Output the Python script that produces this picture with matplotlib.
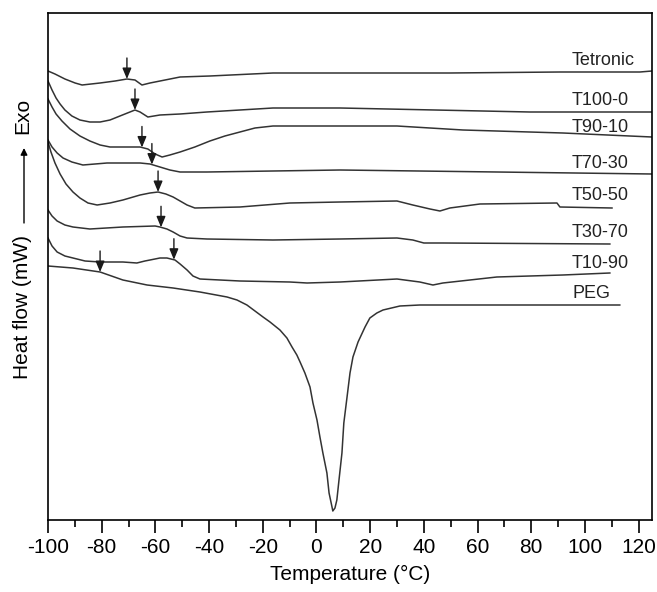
import numpy as np
from matplotlib import pyplot as plt

# 字体
plt.rcParams['font.family'] = ['Liberation Sans', 'DejaVu Sans']
plt.rcParams['axes.unicode_minus'] = False  # 刻度用普通连字符

# 数据 (温度 °C, 热流 任意单位)
names = ['Tetronic', 'T100-0', 'T90-10', 'T70-30', 'T50-50', 'T30-70', 'T10-90', 'PEG']

t_tetronic = [-100, -97.4, -93.7, -89.9, -87.3, -80.6, -75.0, -70.6, -67.6, -65.0, -62.0, -56.4, -50.8, -39.7, -16.2, 8.8, 49.7, 90.7, 120.5, 125]
h_tetronic = [44.9, 44.6, 44.1, 43.7, 43.5, 43.7, 43.9, 44.1, 44.0, 43.5, 43.7, 44.0, 44.3, 44.4, 44.7, 44.7, 44.7, 44.8, 44.8, 44.9]

t_t100 = [-100, -98.5, -97.0, -95.5, -93.7, -91.1, -88.1, -84.4, -80.6, -76.9, -73.2, -67.6, -65.7, -62.8, -58.3, -50.8, -40.8, -16.2, 8.8, 79.5, 125]
h_t100 = [43.9, 43.0, 42.2, 41.6, 41.0, 40.4, 40.0, 39.8, 39.8, 40.0, 40.4, 41.0, 40.8, 40.3, 40.5, 40.6, 40.8, 41.2, 41.2, 40.8, 40.8]

t_t90 = [-100, -98.5, -97.0, -94.8, -91.8, -88.1, -84.4, -80.6, -76.9, -65.7, -62.8, -60.1, -57.5, -54.6, -50.8, -45.3,
         -39.7, -34.1, -28.5, -22.9, -16.2, 8.8, 30.0, 54.6, 91.8, 125]
h_t90 = [42.1, 41.3, 40.6, 39.9, 39.1, 38.4, 37.9, 37.5, 37.3, 37.3, 37.1, 36.6, 36.3, 36.5, 36.8, 37.3,
         37.9, 38.4, 38.8, 39.2, 39.4, 39.4, 39.4, 39.0, 38.7, 38.3]

t_t70 = [-100, -98.5, -96.6, -94.4, -91.1, -87.0, -82.5, -78.0, -65.7, -62.0, -58.3, -54.6, -50.8, -40.8, -16.2, 8.8, 67.2, 125]
h_t70 = [38.0, 37.3, 36.7, 36.2, 35.8, 35.5, 35.6, 35.7, 35.7, 35.6, 35.3, 35.0, 34.8, 34.8, 34.9, 35.0, 34.8, 34.6]

t_t50 = [-100, -98.9, -97.4, -95.5, -93.3, -90.7, -88.1, -85.1, -81.7, -76.9, -72.1, -65.7, -62.0, -59.0, -56.1, -53.4,
         -50.8, -48.2, -45.3, -28.5, -9.9, 8.8, 30.0, 35.9, 42.3, 46.0, 49.7, 60.9, 89.6, 90.7, 110.1]
h_t50 = [37.8, 36.8, 35.7, 34.6, 33.6, 32.8, 32.2, 31.7, 31.5, 31.7, 32.0, 32.5, 32.7, 32.8, 32.6, 32.3,
         31.9, 31.5, 31.2, 31.3, 31.7, 31.8, 31.9, 31.5, 31.1, 30.9, 31.2, 31.6, 31.7, 31.3, 31.2]

t_t30 = [-100, -98.5, -96.6, -93.7, -90.7, -84.4, -72.1, -60.1, -58.3, -55.7, -53.4, -50.8, -48.2, -40.8, -16.2, 8.8,
         30.0, 35.9, 40.0, 47.1, 109.3]
h_t30 = [31.0, 30.4, 29.9, 29.5, 29.3, 29.1, 29.3, 29.4, 29.3, 29.1, 28.8, 28.4, 28.2, 28.1, 28.0, 28.1,
         28.2, 28.0, 27.7, 27.7, 27.6]

t_t10 = [-100, -98.5, -96.6, -93.7, -90.7, -86.2, -80.6, -72.1, -66.9, -63.9, -62.0, -58.3, -55.7, -52.7, -50.8, -48.2,
         -46.0, -43.4, -28.5, -9.9, -3.5, 8.8, 30.0, 38.5, 43.4, 47.1, 67.2, 91.8, 109.3]
h_t10 = [28.2, 27.4, 26.8, 26.4, 26.2, 25.9, 25.8, 25.8, 25.7, 25.9, 26.0, 26.2, 26.2, 26.0, 25.6, 25.0,
         24.4, 24.1, 23.9, 23.8, 23.7, 23.8, 24.1, 23.8, 23.5, 23.7, 24.3, 24.5, 24.7]

t_peg = [-100, -90.7, -80.6, -72.1, -63.1, -53.4, -43.4, -33.3, -29.6, -25.9, -19.9, -17.3, -13.6, -11.0, -9.1, -7.3,
         -6.1, -4.3, -2.4, -1.3, 0.2, 1.3, 2.4, 3.9, 4.7, 5.8, 6.1, 6.9, 7.6, 8.4, 9.5, 10.2, 11.4, 12.5, 13.6, 15.5,
         18.1, 19.9, 22.5, 24.8, 31.1, 38.5, 113.0]
h_peg = [25.4, 25.2, 24.8, 24.0, 23.5, 23.2, 22.8, 22.3, 22.0, 21.5, 20.3, 19.8, 19.0, 18.2, 17.3, 16.5,
         15.8, 14.7, 13.3, 11.7, 10.0, 8.3, 6.7, 4.7, 2.7, 1.3, 0.9, 1.2, 2.0, 4.0, 6.7, 9.7, 12.3, 14.7, 16.3, 17.8,
         19.3, 20.2, 20.7, 21.0, 21.4, 21.5, 21.5]

# 箭头所在温度
arrow_t = [-70.6, -67.6, -65.0, -61.3, -59.0, -57.9, -53.1, -80.6]

curves_t = [t_tetronic, t_t100, t_t90, t_t70, t_t50, t_t30, t_t10, t_peg]
curves_h = [h_tetronic, h_t100, h_t90, h_t70, h_t50, h_t30, h_t10, h_peg]

# 曲线名称的位置
label_x = 95.2
label_y = [45.5, 41.5, 38.8, 35.2, 32.0, 28.3, 25.2, 22.2]

fig = plt.figure(figsize=(6.57, 5.92), dpi=100)
ax = fig.add_axes([48 / 657, 72 / 592, 604 / 657, 507 / 592])

for t, h, a, name, ly in zip(curves_t, curves_h, arrow_t, names, label_y):
    ax.plot(t, h, color='#333333', lw=1.1)
    tip = np.interp(a, t, h)
    ax.annotate('', xy=(a, tip), xytext=(0, 21), textcoords='offset pixels',
                arrowprops=dict(arrowstyle='-|>,head_length=0.65,head_width=0.27', color='#1a1a1a', lw=1.0,
                                mutation_scale=10, shrinkA=0, shrinkB=0))
    ax.text(label_x, ly, name, fontsize=13, va='baseline', ha='left', color='#222222')

ax.set_xlim(-100, 125)
ax.set_ylim(0, 50.7)
ax.set_xticks(range(-100, 121, 20))
ax.set_xticks(range(-90, 121, 20), minor=True)
ax.set_yticks([])
ax.tick_params(axis='x', which='major', direction='out', length=9, width=1.2, labelsize=15, pad=4)
ax.tick_params(axis='x', which='minor', direction='out', length=5, width=1.2)
for s in ax.spines.values():
    s.set_linewidth(1.2)
ax.set_xlabel('Temperature (°C)', fontsize=15, labelpad=6)

# 纵轴标题和箭头
fig.text(23 / 657, 1 - 307 / 592, 'Heat flow (mW)', rotation=90, fontsize=15, ha='center', va='center')
fig.text(23 / 657, 1 - 116 / 592, 'Exo', rotation=90, fontsize=15, ha='center', va='center')
ax.annotate('', xy=(24 / 657, 1 - 148 / 592), xytext=(24 / 657, 1 - 223 / 592),
            xycoords='figure fraction', textcoords='figure fraction',
            arrowprops=dict(arrowstyle='-|>', color='k', lw=1.0, mutation_scale=10, shrinkA=0, shrinkB=0))

plt.savefig('out.png', dpi=100)
